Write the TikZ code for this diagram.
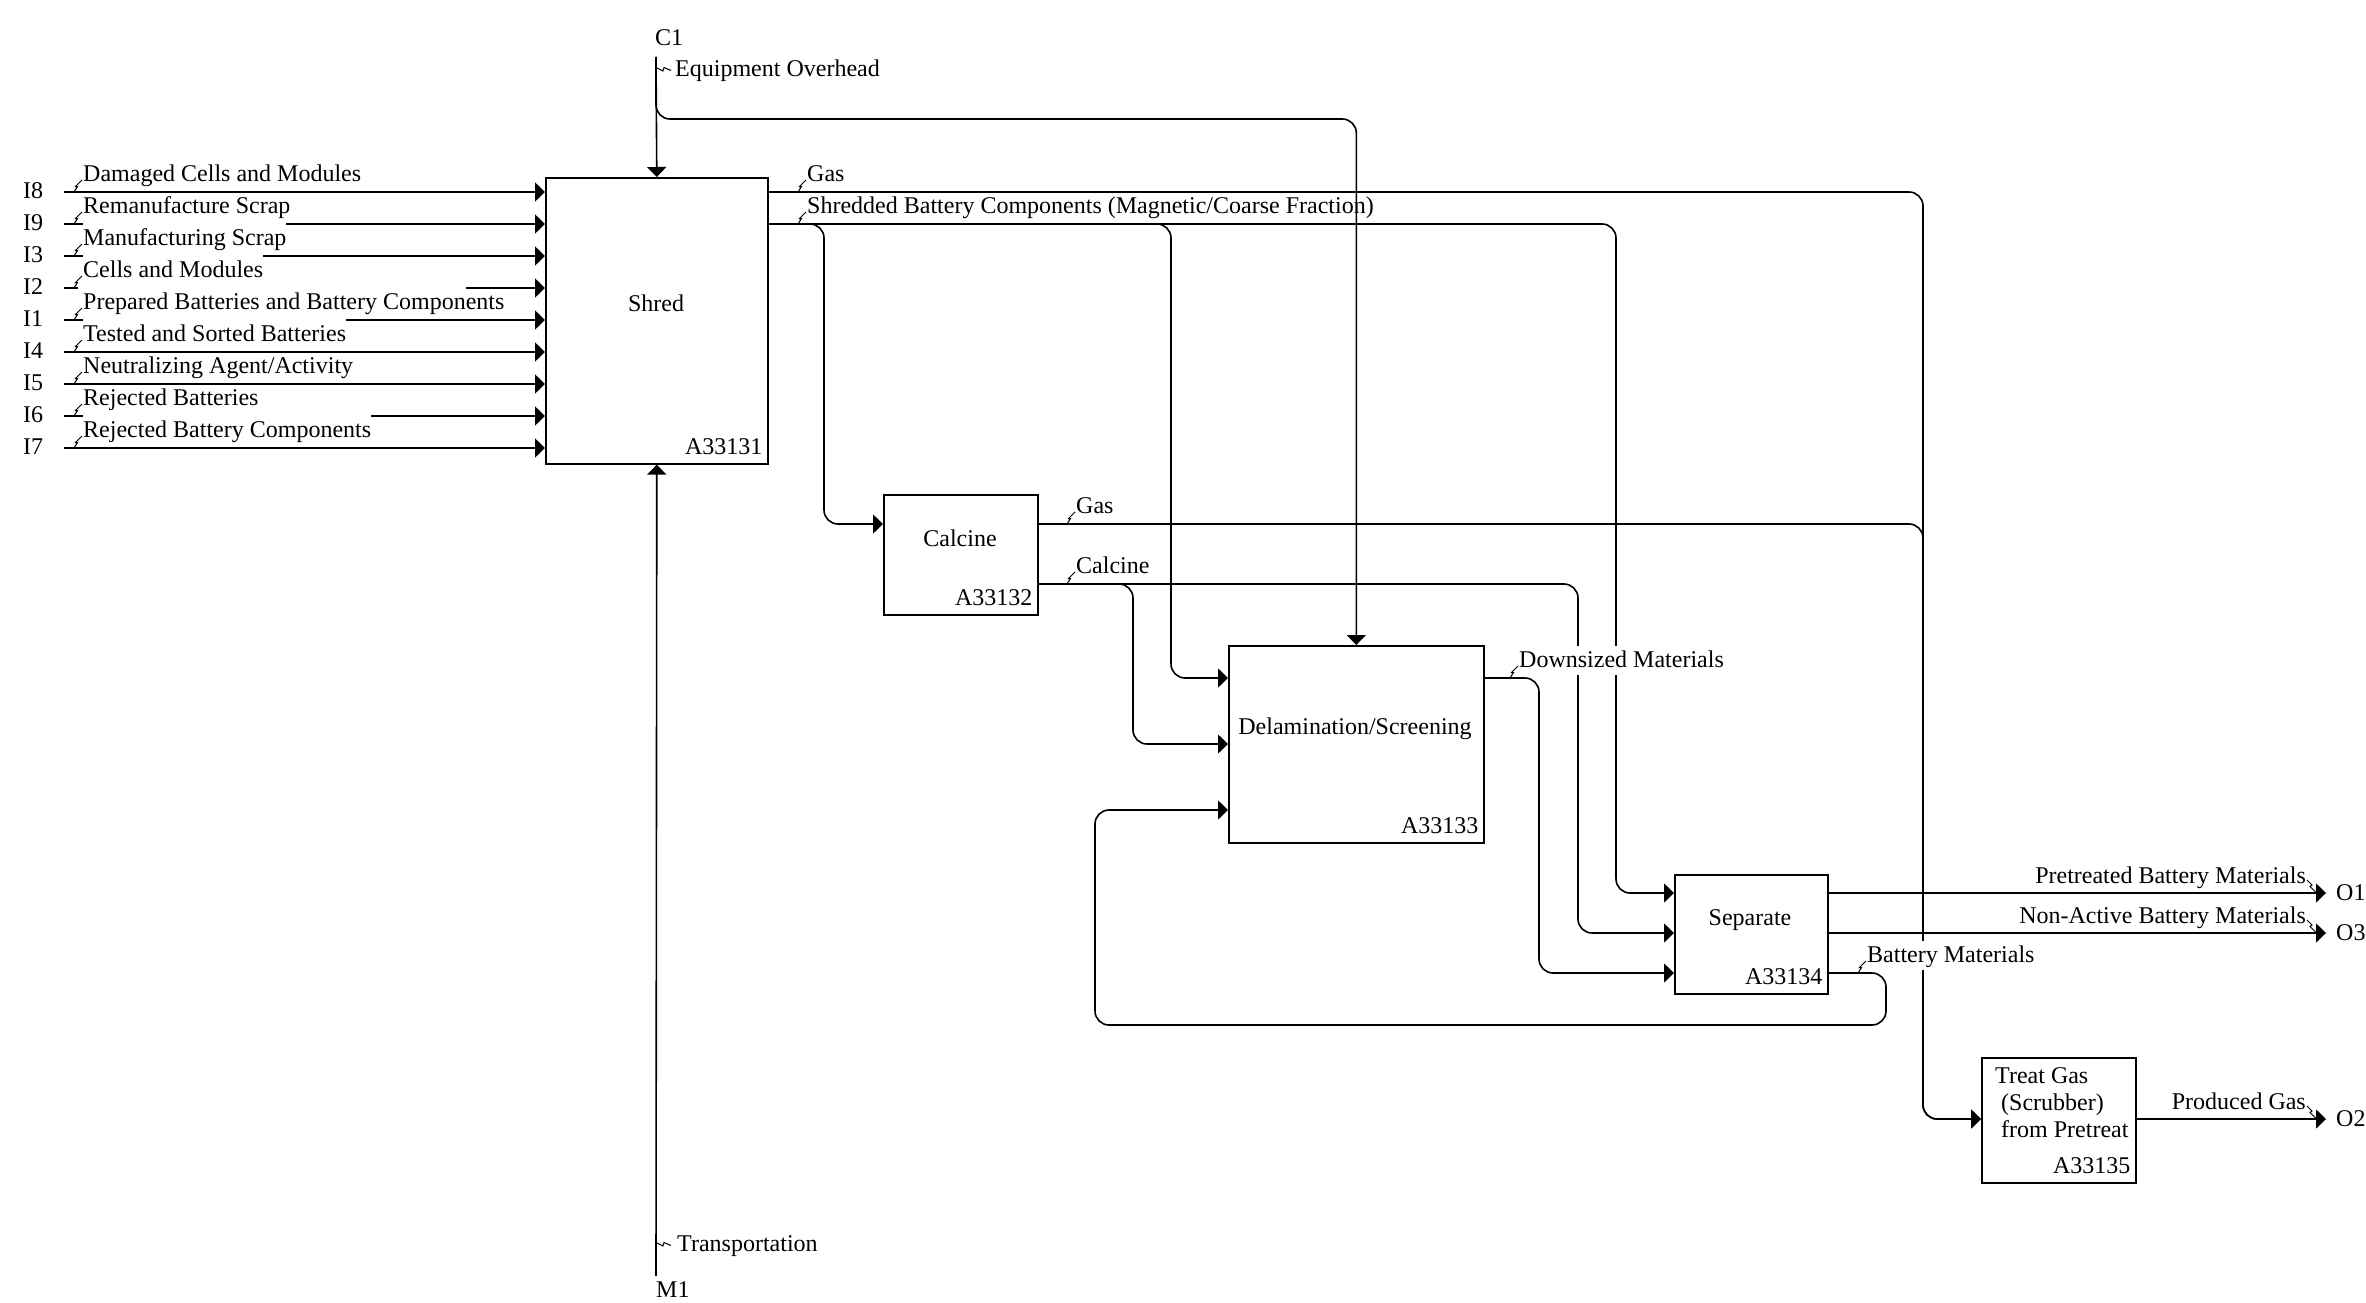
\documentclass[tikz,border=0pt]{standalone}
\usepackage{fontspec}
\setmainfont{Liberation Serif}
\usetikzlibrary{arrows.meta,calc}
\newcommand\myzig[1]{\draw[sq] (#1) -- ++(3.5,-5.5) -- ++(-2,0) -- ++(6.5,-6.5);}
\newcommand\myzag[1]{\draw[sq] (#1) -- ++(5,5) -- ++(-2,1.5) -- ++(6,6);}
\newcommand\myzog[1]{\draw[sq] (#1) -- ++(6,3) -- ++(1,-3.5) -- ++(7,3);}
\begin{document}
\begin{tikzpicture}[x=1pt,y=-1pt,
  every node/.style={font=\fontsize{24}{27}\selectfont, inner sep=0pt},
  ln/.style={line width=1.6pt, rounded corners=14pt},
  arr/.style={ln, -{Triangle[length=10pt,width=19pt]}},
  box/.style={draw, line width=1.6pt, rectangle, anchor=north west, inner sep=0pt},
  lab/.style={anchor=base west},
  h0/.style={},
  h1/.style={fill=white, text height=23pt, text depth=0pt},
  hide/.style={fill=white, text height=21pt, text depth=8pt},
  sq/.style={line width=1pt}]
\useasboundingbox (0,0) rectangle (2366,1303);

% boxes
\node[box, minimum width=222pt, minimum height=286pt] (shred) at (545,177) {};
\node[box, minimum width=154pt, minimum height=120pt] (calc) at (883,494) {};
\node[box, minimum width=255pt, minimum height=197pt] (delam) at (1228,645) {};
\node[box, minimum width=153pt, minimum height=119pt] (sep) at (1674,874) {};
\node[box, minimum width=154pt, minimum height=125pt] (treat) at (1981,1057) {};

% box texts
\node[anchor=base] (tshred) at (656,311) {Shred};
\node[anchor=base] (tcalc) at (960,546) {Calcine};
\node[anchor=base] (tdelam) at (1355,734) {Delamination/Screening};
\node[anchor=base] (tsep) at (1750,925) {Separate};
\node[anchor=north west, align=left] (ttreat) at (1995,1067) {Treat Gas\\\hspace*{6pt}(Scrubber)\\\hspace*{6pt}from Pretreat};
\node[anchor=base east] (idshred) at ($(shred.south east)+(-6,-10)$) {A33131};
\node[anchor=base east] (idcalc) at ($(calc.south east)+(-6,-10)$) {A33132};
\node[anchor=base east] (iddelam) at ($(delam.south east)+(-6,-10)$) {A33133};
\node[anchor=base east] (idsep) at ($(sep.south east)+(-6,-10)$) {A33134};
\node[anchor=base east] (idtreat) at ($(treat.south east)+(-6,-10)$) {A33135};

% inputs
\foreach \n/\y in {8/192,9/224,3/256,2/288,1/320,4/352,5/384,6/416,7/448}{
  \coordinate (s\n) at (64,\y);
  \node[anchor=west] (id\n) at (23,\y-1) {I\n};
}
\foreach \n in {8,9,3,1,4,5,6,7}{
  \draw[arr] (s\n) -- (s\n -| shred.west);
}
\coordinate (g2) at (466,288);
\draw[ln] (s2) -- ++(14,0);
\draw[arr] (g2) -- (g2 -| shred.west);

% control and mechanism
\node[anchor=west] (c1) at (655,38) {C1};
\coordinate (c1s) at (656,57);
\draw[arr] (c1s) -- (shred.north);
\draw[arr] (c1s) -- (656,119) -- (delam.north |- 0,119) -- (delam.north);
\node[anchor=west] (m1) at (656,1290) {M1};
\coordinate (m1s) at (656,1276);
\draw[arr] (m1s) -- (shred.south);

% outputs
\node[anchor=west, inner xsep=10pt] (o1) at (2326,893) {O1};
\node[anchor=west, inner xsep=10pt] (o3) at (2326,933) {O3};
\node[anchor=west, inner xsep=10pt] (o2) at (2326,1119) {O2};

% connectors
\draw[arr] (shred.east |- 0,192) -- (1923,192) -- (1923,1119) -- (treat.west |- 0,1119);
\draw[arr] (calc.east |- 0,524) -- (1923,524) -- (1923,1119) -- (treat.west |- 0,1119);
\draw[arr] (shred.east |- 0,224) -- (1616,224) -- (1616,893) -- (sep.west |- 0,893);
\draw[arr] (shred.east |- 0,224) -- (824,224) -- (824,524) -- (calc.west |- 0,524);
\draw[arr] (shred.east |- 0,224) -- (1171,224) -- (1171,678) -- (delam.west |- 0,678);
\draw[arr] (calc.east |- 0,584) -- (1578,584) -- (1578,933) -- (sep.west |- 0,933);
\draw[arr] (calc.east |- 0,584) -- (1133,584) -- (1133,744) -- (delam.west |- 0,744);
\draw[arr] (delam.east |- 0,678) -- (1539,678) -- (1539,973) -- (sep.west |- 0,973);
\draw[arr] (sep.east |- 0,973) -- (1886,973) -- (1886,1025) -- (1095,1025) -- (1095,810) -- (delam.west |- 0,810);
\draw[arr] (sep.east |- o1) -- (o1);
\draw[arr] (sep.east |- o3) -- (o3);
\draw[arr] (treat.east |- o2) -- (o2);

% input labels
\foreach \n/\y/\t/\h in {8/192/{Damaged Cells and Modules}/0,
  9/224/{Remanufacture Scrap}/0,
  3/256/{Manufacturing Scrap}/1,
  2/288/{Cells and Modules}/1,
  1/320/{Prepared Batteries and Battery Components}/0,
  4/352/{Tested and Sorted Batteries}/1,
  5/384/{Neutralizing Agent\slash Activity}/0,
  6/416/{Rejected Batteries}/0,
  7/448/{Rejected Battery Components}/1}{
  \node[lab, h\h] (l\n) at (83,\y-11) {\t};
  \myzig{74,\y}
}

% arrow labels
\node[lab] (lgas1) at (807,181) {Gas};
\myzig{798,192}
\node[lab] (lsbc) at (807,213) {Shredded Battery Components (Magnetic/Coarse Fraction)};
\myzig{798,224}
\node[lab] (lgas2) at (1076,513) {Gas};
\myzig{1067,524}
\node[lab] (lcal) at (1076,573) {Calcine};
\myzig{1067,584}
\node[lab, hide] (ldown) at (1519,667) {Downsized Materials};
\myzig{1510,678}
\node[lab, hide] (lbat) at (1867,962) {Battery Materials};
\myzig{1858,973}
\node[anchor=base east] (lpre) at (2306,883) {Pretreated Battery Materials};
\myzag{2307,880}
\node[anchor=base east] (lnon) at (2306,923) {Non-Active Battery Materials};
\myzag{2307,920}
\node[anchor=base east] (lprod) at (2306,1109) {Produced Gas};
\myzag{2307,1106}
\node[anchor=base west] (leq) at (675,77) {Equipment Overhead};
\myzog{657,68}
\node[anchor=base west] (ltr) at (677,1251) {Transportation};
\myzog{657,1243}
\end{tikzpicture}
\end{document}
